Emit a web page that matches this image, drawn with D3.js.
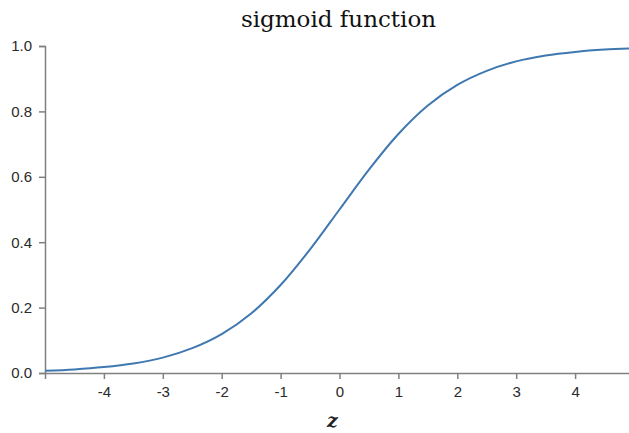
<!DOCTYPE html>
<html>
<head>
<meta charset="utf-8">
<script src="https://cdn.jsdelivr.net/npm/d3@7"></script>
<style>
  html, body { margin: 0; padding: 0; background: #fff; overflow: hidden; }
  svg { display: block; }
  .axis path, .axis line { stroke: #808080; stroke-width: 1.5; }
  .axis text { font-family: "Liberation Sans", Arial, sans-serif; font-size: 15px; fill: #2a2a2a; }
</style>
</head>
<body>
<svg id="chart"></svg>
<script>
// values
const zValues = [-5, -4.5, -4, -3.5, -3, -2.5, -2, -1.5, -1, -0.5, 0, 0.5, 1, 1.5, 2, 2.5, 3, 3.5, 4, 4.5, 5];
const sigValues = [0.007, 0.011, 0.018, 0.029, 0.047, 0.076, 0.119, 0.182, 0.269, 0.378, 0.5,
                   0.622, 0.731, 0.818, 0.881, 0.924, 0.953, 0.971, 0.982, 0.989, 0.993];
const xTicks = [-4, -3, -2, -1, 0, 1, 2, 3, 4];
const yTicks = [0, 0.2, 0.4, 0.6, 0.8, 1.0];

const width = 629, height = 433;
const margin = {top: 46, left: 45, bottom: 60};

const svg = d3.select('#chart')
    .attr('width', width)
    .attr('height', height);

// the x range runs past the right edge, like the reference
const xScale = d3.scaleLinear().domain([-5, 5]).range([margin.left, 634]);
const yScale = d3.scaleLinear().domain([0, 1]).range([373, margin.top]);

const xAxis = d3.axisBottom(xScale)
    .tickValues(xTicks)
    .tickFormat(d => String(d))   // plain hyphen, not unicode minus
    .tickSize(6)
    .tickSizeOuter(6);

const yAxis = d3.axisLeft(yScale)
    .tickValues(yTicks)
    .tickFormat(d3.format('.1f'))
    .tickSize(6)
    .tickSizeOuter(6);

svg.append('g')
    .attr('class', 'axis x-axis')
    .attr('transform', `translate(0,${yScale(0)})`)
    .call(xAxis)
    .selectAll('text')
      .attr('y', 10)
      .attr('dy', '0.95em');

svg.append('g')
    .attr('class', 'axis y-axis')
    .attr('transform', `translate(${margin.left},0)`)
    .call(yAxis)
    .selectAll('text')
      .attr('x', -13);

svg.selectAll('.axis .domain').attr('fill', 'none');

const data = zValues.map((z, i) => ({z: z, s: sigValues[i]}));

const line = d3.line()
    .x(d => xScale(d.z))
    .y(d => yScale(d.s))
    .curve(d3.curveCatmullRom);

svg.append('path')
    .datum(data)
    .attr('fill', 'none')
    .attr('stroke', '#3f78b0')
    .attr('stroke-width', 2)
    .attr('d', line);

// title
svg.append('text')
    .attr('x', xScale(0) - 1)
    .attr('y', 27)
    .attr('text-anchor', 'middle')
    .style('font-family', 'Georgia, "DejaVu Serif", "Liberation Serif", serif')
    .style('font-size', '23px')
    .style('fill', '#111')
    .text('sigmoid function');

// x label
svg.append('text')
    .attr('x', xScale(0) - 7)
    .attr('y', 427)
    .attr('text-anchor', 'middle')
    .style('font-family', '"DejaVu Serif", serif')
    .style('font-style', 'italic')
    .style('font-weight', 'bold')
    .style('font-size', '19px')
    .style('fill', '#222')
    .text('z');
</script>
</body>
</html>
